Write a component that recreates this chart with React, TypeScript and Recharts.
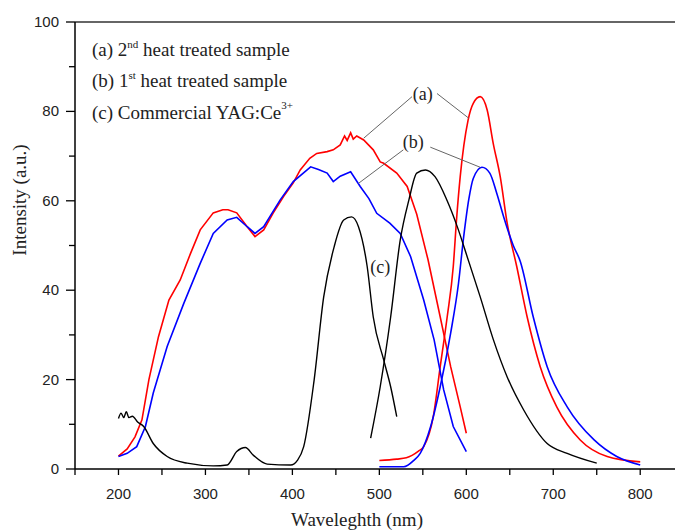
import React from "react";
import { LineChart, Line, XAxis, YAxis, ReferenceLine, ReferenceDot } from "recharts";

// (a) 2nd heat treated sample - excitation / emission
const aExcX = [200, 210, 219, 227, 235, 246, 258, 271, 283, 294, 309, 320, 326, 336, 348, 357, 367, 378, 390, 401, 409, 420, 428, 440, 447, 455, 460, 463, 467, 470, 474, 482, 493, 501, 505, 520, 532, 543, 556, 570, 582, 593, 600];
const aExcY = [2.9, 4.5, 7.2, 11, 20, 29.6, 37.8, 42.3, 48.3, 53.5, 57.3, 58, 58, 57.3, 54.2, 52, 53.5, 57.3, 61, 64, 66.9, 69.5, 70.6, 71, 71.4, 72.5, 74.5, 73.5, 75.2, 73.8, 74.5, 73.6, 71.4, 68.7, 68.4, 66.2, 63.2, 57, 46.8, 34, 22.9, 13.9, 8];
const aEmX = [500, 520, 531, 545, 551, 562, 570, 578, 585, 589, 593, 602, 608, 616, 624, 631, 639, 647, 658, 670, 685, 704, 731, 762, 800];
const aEmY = [1.9, 2.2, 2.5, 4, 5, 11.7, 22.9, 34, 45.3, 56.4, 65.4, 78, 81.8, 83.3, 80.3, 72.8, 65.4, 55, 45.3, 34, 22.9, 13.9, 6.5, 2.8, 1.6];

// (b) 1st heat treated sample
const bExcX = [200, 210, 221, 231, 240, 256, 275, 294, 309, 325, 336, 348, 357, 367, 386, 401, 421, 430, 440, 447, 455, 467, 478, 488, 497, 512, 524, 536, 551, 563, 574, 585, 600];
const bExcY = [2.8, 3.5, 5, 9.5, 17, 27.4, 37, 46, 52.7, 55.7, 56.3, 54.2, 52.7, 54.2, 60.2, 64.3, 67.6, 67, 66.2, 64.3, 65.5, 66.5, 63.2, 60.5, 57.2, 55, 52.7, 47.5, 37.8, 28.9, 17.7, 9.5, 3.9];
const bEmX = [500, 528, 540, 547, 559, 570, 582, 591, 597, 603, 608, 618, 627, 635, 643, 654, 662, 677, 693, 716, 747, 773, 800];
const bEmY = [0.5, 0.5, 2, 3.5, 9.5, 18.4, 30.4, 41.5, 52, 60.5, 65, 67.5, 66.2, 61.7, 56.4, 50, 46.5, 34, 22.9, 13.9, 6.5, 2.8, 0.9];

// (c) Commercial YAG:Ce3+
const cExcX = [200, 203, 206, 209, 212, 216, 222, 229, 240, 256, 279, 309, 325, 336, 346, 355, 371, 398, 406, 413, 425, 436, 448, 459, 468, 476, 486, 493, 505, 513, 520];
const cExcY = [11.3, 12.5, 11.5, 12.8, 11.5, 11.8, 10.5, 9.5, 5.7, 2.8, 1.3, 0.7, 0.9, 3.9, 4.8, 3.1, 1.1, 0.9, 2, 5, 19.9, 38.5, 49.7, 55.7, 56.4, 54.2, 45.3, 34, 24.4, 18.4, 11.7];
const cEmX = [490, 501, 513, 524, 534, 543, 553, 564, 578, 590, 601, 616, 631, 647, 666, 693, 716, 750];
const cEmY = [6.9, 18.4, 34, 51.2, 60.2, 66.2, 66.9, 65.4, 60, 54, 47.5, 38.5, 29, 20.6, 13.2, 5.7, 3.5, 1.3];

const xTicks = [150, 200, 250, 300, 350, 400, 450, 500, 550, 600, 650, 700, 750, 800];
const yTicks = [0, 10, 20, 30, 40, 50, 60, 70, 80, 90, 100];

// pointer labels: text position and the two leader lines
const pointerLabels = ["(a)", "(b)"];
const pointerAt = [[550, 84], [539, 73.2]];
const pointerLeft = [[[537.6, 83.3], [482, 74]], [[527.6, 71.4], [476, 63.9]]];
const pointerRight = [[[566.3, 84], [602.7, 78.5]], [[558.6, 72], [616, 67.5]]];

const zip = (xs: number[], ys: number[]) => xs.map((x, i) => ({ x, y: ys[i] }));

const serif = "'Liberation Serif', 'Times New Roman', serif";
const sans = "'Liberation Sans', Arial, sans-serif";

const XTick = (props: any) => {
  const { x, y, payload } = props;
  const major = payload.value % 100 === 0;
  return (
    <g>
      <line x1={x} x2={x} y1={y} y2={y + 6} stroke="#000" strokeWidth={1.3} />
      {major && (
        <text x={x} y={y + 30} textAnchor="middle" fontSize={15} fontFamily={sans} fill="#222">
          {payload.value}
        </text>
      )}
    </g>
  );
};

const YTick = (props: any) => {
  const { x, y, payload } = props;
  const major = payload.value % 20 === 0;
  return (
    <g>
      <line x1={x - (major ? 9 : 6)} x2={x} y1={y} y2={y} stroke="#000" strokeWidth={1.3} />
      {major && (
        <text x={x - 16} y={y + 5} textAnchor="end" fontSize={15} fontFamily={sans} fill="#222">
          {payload.value}
        </text>
      )}
    </g>
  );
};

export default function App() {
  return (
    <div style={{ position: "absolute", left: 0, top: 0, width: 675, height: 531, background: "#fff" }}>
      <LineChart width={675} height={531} margin={{ top: 22, right: 0, bottom: 0, left: 0 }}>
        <XAxis
          type="number"
          dataKey="x"
          domain={[150, 840]}
          ticks={xTicks}
          allowDataOverflow
          height={62}
          tickSize={0}
          tickMargin={0}
          tickLine={false}
          tick={<XTick />}
          axisLine={{ stroke: "#000", strokeWidth: 1.5 }}
        />
        <YAxis
          type="number"
          domain={[0, 100]}
          ticks={yTicks}
          width={75}
          tickSize={0}
          tickMargin={0}
          tickLine={false}
          tick={<YTick />}
          axisLine={{ stroke: "#000", strokeWidth: 1.5 }}
        />
        <ReferenceLine y={100} stroke="#333" strokeWidth={1.5} />

        <Line data={zip(aExcX, aExcY)} dataKey="y" stroke="#ff0000" strokeWidth={1.6} dot={false} type="linear" isAnimationActive={false} />
        <Line data={zip(aEmX, aEmY)} dataKey="y" stroke="#ff0000" strokeWidth={1.6} dot={false} type="monotone" isAnimationActive={false} />
        <Line data={zip(bExcX, bExcY)} dataKey="y" stroke="#0000ff" strokeWidth={1.6} dot={false} type="linear" isAnimationActive={false} />
        <Line data={zip(bEmX, bEmY)} dataKey="y" stroke="#0000ff" strokeWidth={1.6} dot={false} type="monotone" isAnimationActive={false} />
        <Line data={zip(cExcX, cExcY)} dataKey="y" stroke="#000" strokeWidth={1.4} dot={false} type="monotone" isAnimationActive={false} />
        <Line data={zip(cEmX, cEmY)} dataKey="y" stroke="#000" strokeWidth={1.4} dot={false} type="monotone" isAnimationActive={false} />

        {pointerLabels.map((_, i) => (
          <ReferenceLine
            key={"l" + i}
            segment={[{ x: pointerLeft[i][0][0], y: pointerLeft[i][0][1] }, { x: pointerLeft[i][1][0], y: pointerLeft[i][1][1] }]}
            stroke="#666"
            strokeWidth={1}
          />
        ))}
        {pointerLabels.map((_, i) => (
          <ReferenceLine
            key={"r" + i}
            segment={[{ x: pointerRight[i][0][0], y: pointerRight[i][0][1] }, { x: pointerRight[i][1][0], y: pointerRight[i][1][1] }]}
            stroke="#666"
            strokeWidth={1}
          />
        ))}
        {pointerLabels.map((lab, i) => (
          <ReferenceDot
            key={"d" + i}
            x={pointerAt[i][0]}
            y={pointerAt[i][1]}
            r={0}
            fill="none"
            stroke="none"
            label={{ value: lab, position: "center", fontSize: 18, fontFamily: serif, fill: "#222" }}
          />
        ))}
        <ReferenceDot
          x={501}
          y={45.3}
          r={0}
          fill="none"
          stroke="none"
          label={{ value: "(c)", position: "center", fontSize: 18, fontFamily: serif, fill: "#222" }}
        />
      </LineChart>

      <svg width={675} height={531} style={{ position: "absolute", left: 0, top: 0, pointerEvents: "none" }}>
        <g fontFamily={serif} fontSize={19} fill="#222">
          <text x={92} y={56}>
            (a) 2<tspan fontSize={11} dy={-8}>nd</tspan>
            <tspan dy={8}> heat treated sample</tspan>
          </text>
          <text x={92} y={87}>
            (b) 1<tspan fontSize={11} dy={-8}>st</tspan>
            <tspan dy={8}> heat treated sample</tspan>
          </text>
          <text x={92} y={119}>
            (c) Commercial YAG:Ce<tspan fontSize={11} dy={-10}>3+</tspan>
          </text>
        </g>
        <text x={357} y={526} textAnchor="middle" fontFamily={serif} fontSize={19} fill="#222">
          Waveleghth (nm)
        </text>
        <text x={26} y={200} transform="rotate(-90 26 200)" textAnchor="middle" fontFamily={serif} fontSize={19} fill="#222">
          Intensity (a.u.)
        </text>
      </svg>
    </div>
  );
}
